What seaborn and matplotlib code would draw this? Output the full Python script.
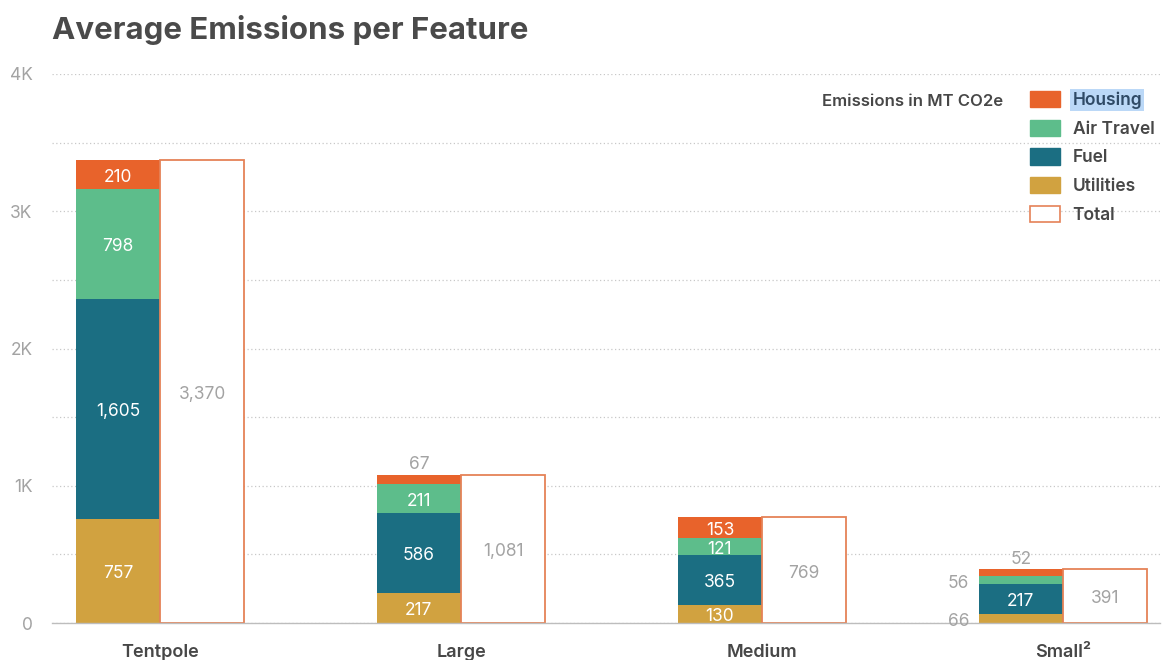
import pandas as pd
import matplotlib
matplotlib.use("Agg")
import matplotlib.pyplot as plt
import seaborn as sns
from matplotlib.patches import Patch
from matplotlib.ticker import FuncFormatter, MultipleLocator

# ====================================
# DADOS
# ====================================

categorias = ["Tentpole", "Large", "Medium", "Small²"]

utilities = [757, 217, 130, 66]
fuel = [1605, 586, 365, 217]
air_travel = [798, 211, 121, 56]
housing = [210, 67, 153, 52]
total = [3370, 1081, 769, 391]

segmentos = ["Utilities", "Fuel", "Air Travel", "Housing"]
valores = [utilities, fuel, air_travel, housing]

cores = {
    "Utilities": "#D1A240",
    "Fuel": "#1B6E82",
    "Air Travel": "#5DBD8B",
    "Housing": "#E8632B",
}
cor_total = "#E58257"
cinza = "#A3A3A3"
escuro = "#474747"

# ====================================
# ESTILO
# ====================================

sns.set_theme(style="white")
plt.rcParams["font.family"] = ["Inter", "DejaVu Sans"]

fig = plt.figure(figsize=(11.62, 6.6), dpi=100)
ax = fig.add_axes([52 / 1162, 37 / 660, 1108 / 1162, 549 / 660])

tipos = ["Empilhado", "Total"]


def barras_novas(antes):
    # pega o container com barras criado na última chamada
    return [c for c in ax.containers[antes:] if len(c) > 0][0]


def rotulo(texto, xy, dx=0, dy=-2, ha="center", va="center", cor="white"):
    ax.annotate(texto, xy, xytext=(dx, dy), textcoords="offset points",
                ha=ha, va=va, color=cor, fontsize=12.5, zorder=5)


# ====================================
# BARRAS EMPILHADAS (sobrepostas de cima para baixo)
# ====================================

acumulado = []
soma = [0] * len(categorias)
for vals in valores:
    soma = [s + v for s, v in zip(soma, vals)]
    acumulado.append(list(soma))

containers = {}
for seg, cum in reversed(list(zip(segmentos, acumulado))):
    df_camada = pd.DataFrame({
        "Categoria": categorias,
        "Valor": cum,
        "Tipo": "Empilhado",
    })
    antes = len(ax.containers)
    sns.barplot(
        data=df_camada,
        x="Categoria",
        y="Valor",
        hue="Tipo",
        hue_order=tipos,
        order=categorias,
        palette={"Empilhado": cores[seg], "Total": "white"},
        saturation=1,
        dodge=True,
        width=0.56,
        gap=0,
        linewidth=0,
        errorbar=None,
        legend=False,
        ax=ax,
    )
    containers[seg] = barras_novas(antes)

# ====================================
# BARRA TOTAL
# ====================================

df_total = pd.DataFrame({
    "Categoria": categorias,
    "Valor": total,
    "Tipo": "Total",
})
antes = len(ax.containers)
sns.barplot(
    data=df_total,
    x="Categoria",
    y="Valor",
    hue="Tipo",
    hue_order=tipos,
    order=categorias,
    palette={"Empilhado": "white", "Total": "white"},
    saturation=1,
    dodge=True,
    width=0.56,
    gap=0,
    edgecolor=cor_total,
    linewidth=1.3,
    errorbar=None,
    legend=False,
    ax=ax,
)
cont_total = barras_novas(antes)

# ====================================
# RÓTULOS
# ====================================

for k, seg in enumerate(segmentos):
    for i, barra in enumerate(containers[seg]):
        v = valores[k][i]
        base = acumulado[k][i] - v
        xc = barra.get_x() + barra.get_width() / 2
        if v >= 100:
            rotulo(f"{v:,}", (xc, base + v / 2))
        elif k == len(segmentos) - 1:
            rotulo(f"{v:,}", (xc, acumulado[k][i]), dy=1, va="bottom", cor=cinza)
        else:
            rotulo(f"{v:,}", (barra.get_x(), base + v / 2), dx=-7, ha="right",
                   cor=cinza)

for i, barra in enumerate(cont_total):
    xc = barra.get_x() + barra.get_width() / 2
    rotulo(f"{total[i]:,}", (xc, total[i] / 2), cor=cinza)

# ====================================
# EIXOS
# ====================================

ax.set_ylim(0, 4000)
ax.set_xlim(-0.359, 3.322)
ax.yaxis.set_major_locator(MultipleLocator(1000))
ax.yaxis.set_minor_locator(MultipleLocator(500))
ax.yaxis.set_major_formatter(
    FuncFormatter(lambda v, p: "0" if v == 0 else f"{int(v / 1000)}K")
)
ax.grid(axis="y", which="both", linestyle=(0, (1, 2)), color="#C8C8C8",
        linewidth=0.9)
ax.set_axisbelow(True)

for lado in ["top", "right", "left"]:
    ax.spines[lado].set_visible(False)
ax.spines["bottom"].set_color("#BDBDBD")
ax.spines["bottom"].set_linewidth(1)

ax.tick_params(axis="y", which="both", length=0, labelsize=12.5,
               labelcolor=cinza, pad=14)
ax.tick_params(axis="x", length=0, labelsize=13, labelcolor=escuro, pad=15)
for t in ax.get_xticklabels():
    t.set_fontweight("semibold")

ax.set_xlabel("")
ax.set_ylabel("")

# ====================================
# LEGENDA E TÍTULO
# ====================================

handles = [Patch(facecolor=cores[s], edgecolor=cores[s]) for s in reversed(segmentos)]
handles.append(Patch(facecolor="white", edgecolor=cor_total, linewidth=1.2))
rotulos = list(reversed(segmentos)) + ["Total"]

leg = ax.legend(
    handles,
    rotulos,
    loc="upper left",
    bbox_to_anchor=(1030 / 1162, 1 - 91 / 660),
    bbox_transform=fig.transFigure,
    frameon=False,
    borderpad=0,
    borderaxespad=0,
    handlelength=1.75,
    handleheight=1.05,
    handletextpad=0.7,
    labelspacing=0.62,
    fontsize=12.5,
)
for t in leg.get_texts():
    t.set_color(escuro)
    t.set_fontweight("semibold")
leg.get_texts()[0].set_color("#2F4A66")
leg.get_texts()[0].set_bbox(dict(facecolor="#BBD8F7", edgecolor="none", pad=1.5))

fig.text(1003 / 1162, 1 - 101 / 660, "Emissions in MT CO2e", ha="right",
         va="center", fontsize=12, fontweight="semibold", color=escuro)

fig.text(52 / 1162, 1 - 30 / 660, "Average Emissions per Feature", ha="left",
         va="center", fontsize=22.5, fontweight="bold", color="#4A4A4A")

fig.savefig("out.png", dpi=100)
plt.close(fig)
